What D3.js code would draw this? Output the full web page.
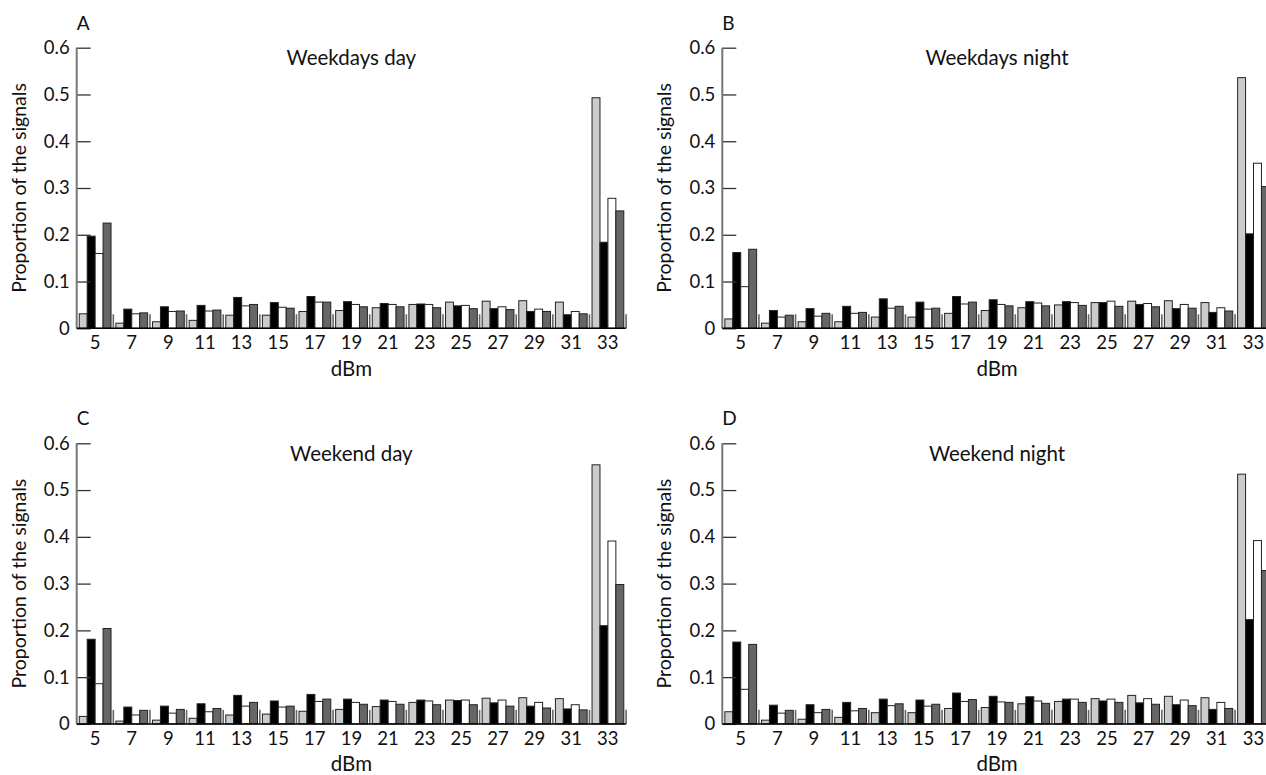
<!DOCTYPE html>
<html>
<head>
<meta charset="utf-8">
<script src="https://cdn.jsdelivr.net/npm/d3@7"></script>
<style>
  body { margin: 0; background: #fff; }
  svg text { font-family: Lato, "DejaVu Sans", sans-serif; fill: #111; }
</style>
</head>
<body>
<div id="chart"></div>
<script>
// dBm bins shown on the x axis
const categories = [5, 7, 9, 11, 13, 15, 17, 19, 21, 23, 25, 27, 29, 31, 33];
const seriesKeys = ["light", "black", "white", "dark"];
const yTicks = [0, 0.1, 0.2, 0.3, 0.4, 0.5, 0.6];
const yTickLabels = ["0", "0.1", "0.2", "0.3", "0.4", "0.5", "0.6"];
const separatorLevel = 0.03;

// values, one list per bar shade
const weekdaysDay = [
  [0.031, 0.011, 0.014, 0.017, 0.028, 0.028, 0.036, 0.038, 0.044, 0.051, 0.056, 0.058, 0.059, 0.056, 0.493],
  [0.197, 0.041, 0.046, 0.049, 0.066, 0.055, 0.068, 0.057, 0.053, 0.052, 0.048, 0.042, 0.036, 0.029, 0.184],
  [0.160, 0.031, 0.036, 0.037, 0.048, 0.045, 0.056, 0.051, 0.051, 0.051, 0.049, 0.046, 0.041, 0.036, 0.278],
  [0.225, 0.033, 0.037, 0.039, 0.051, 0.043, 0.056, 0.046, 0.046, 0.044, 0.042, 0.040, 0.036, 0.031, 0.251]
];
const weekdaysNight = [
  [0.020, 0.011, 0.014, 0.014, 0.024, 0.024, 0.032, 0.038, 0.044, 0.050, 0.055, 0.058, 0.059, 0.055, 0.536],
  [0.162, 0.038, 0.042, 0.047, 0.063, 0.056, 0.068, 0.061, 0.057, 0.057, 0.055, 0.051, 0.042, 0.034, 0.202],
  [0.089, 0.024, 0.026, 0.032, 0.043, 0.041, 0.052, 0.051, 0.054, 0.055, 0.058, 0.053, 0.051, 0.044, 0.353],
  [0.169, 0.028, 0.032, 0.034, 0.047, 0.043, 0.056, 0.048, 0.048, 0.049, 0.047, 0.046, 0.043, 0.037, 0.303]
];
const weekendDay = [
  [0.016, 0.006, 0.008, 0.012, 0.019, 0.021, 0.027, 0.031, 0.037, 0.046, 0.051, 0.055, 0.056, 0.054, 0.554],
  [0.181, 0.036, 0.038, 0.043, 0.061, 0.049, 0.063, 0.053, 0.051, 0.051, 0.050, 0.045, 0.038, 0.032, 0.210],
  [0.086, 0.019, 0.023, 0.026, 0.038, 0.036, 0.048, 0.046, 0.048, 0.049, 0.051, 0.051, 0.046, 0.041, 0.391],
  [0.204, 0.029, 0.031, 0.033, 0.046, 0.038, 0.053, 0.042, 0.042, 0.041, 0.041, 0.038, 0.034, 0.030, 0.298]
];
const weekendNight = [
  [0.026, 0.008, 0.010, 0.014, 0.024, 0.024, 0.033, 0.035, 0.043, 0.048, 0.054, 0.061, 0.059, 0.056, 0.534],
  [0.175, 0.040, 0.041, 0.046, 0.053, 0.051, 0.066, 0.059, 0.058, 0.053, 0.049, 0.045, 0.041, 0.031, 0.223],
  [0.074, 0.023, 0.024, 0.028, 0.039, 0.038, 0.048, 0.047, 0.049, 0.053, 0.053, 0.054, 0.051, 0.046, 0.392],
  [0.170, 0.029, 0.031, 0.033, 0.043, 0.042, 0.052, 0.046, 0.044, 0.046, 0.046, 0.042, 0.039, 0.033, 0.328]
];

const panelLetters = ["A", "B", "C", "D"];
const panelTitles = ["Weekdays day", "Weekdays night", "Weekend day", "Weekend night"];
const panelData = [weekdaysDay, weekdaysNight, weekendDay, weekendNight];

const fills = { light: "#cbcbcb", black: "#000000", white: "#ffffff", dark: "#666666" };

const svgWidth = 1266;
const svgHeight = 775;
const plotWidth = 549.4;
const plotHeight = 280.6;
const origins = [[76.7, 47.7], [722.3, 47.7], [76.7, 443.3], [722.3, 443.3]];

const svg = d3.select("#chart")
  .append("svg")
  .attr("width", svgWidth)
  .attr("height", svgHeight);

const x0 = d3.scaleBand()
  .domain(categories)
  .range([0, plotWidth])
  .padding(0);

const x1 = d3.scaleBand()
  .domain(seriesKeys)
  .range([x0.bandwidth() * 0.07, x0.bandwidth() * 0.937]);

const y = d3.scaleLinear()
  .domain([0, 0.6])
  .range([plotHeight, 0]);

panelData.forEach((series, p) => {
  const g = svg.append("g")
    .attr("transform", `translate(${origins[p][0]}, ${origins[p][1]})`);

  // separators between bins
  g.selectAll(".sep")
    .data(categories)
    .enter()
    .append("line")
    .attr("x1", d => x0(d) + x0.bandwidth())
    .attr("x2", d => x0(d) + x0.bandwidth())
    .attr("y1", y(0))
    .attr("y2", y(separatorLevel))
    .attr("stroke", "#666")
    .attr("stroke-width", 1.6);

  const rows = categories.map((c, i) => ({
    cat: c,
    bars: seriesKeys.map((k, s) => ({ key: k, value: series[s][i] }))
  }));

  const groups = g.selectAll(".grp")
    .data(rows)
    .enter()
    .append("g")
    .attr("transform", d => `translate(${x0(d.cat)}, 0)`);

  groups.selectAll("rect")
    .data(d => d.bars)
    .enter()
    .append("rect")
    .attr("x", d => x1(d.key))
    .attr("y", d => y(d.value))
    .attr("width", x1.bandwidth())
    .attr("height", d => y(0) - y(d.value))
    .attr("fill", d => fills[d.key])
    .attr("stroke", "#222")
    .attr("stroke-width", 1);

  // y axis, ticks pointing inward
  const leftAxis = d3.axisLeft(y)
    .tickValues(yTicks)
    .tickFormat((d, i) => yTickLabels[i])
    .tickSize(-14)
    .tickPadding(7);

  const yAxis = g.append("g").call(leftAxis);
  yAxis.select(".domain").remove();
  yAxis.selectAll(".tick line").attr("stroke", "#333").attr("stroke-width", 1.3);
  yAxis.selectAll(".tick text")
    .attr("font-size", 18.5)
    .attr("fill", "#111");

  g.append("line")
    .attr("x1", 0).attr("x2", 0)
    .attr("y1", y(0.6)).attr("y2", y(0))
    .attr("stroke", "#777")
    .attr("stroke-width", 2);

  // x axis
  const bottomAxis = d3.axisBottom(x0)
    .tickSize(0)
    .tickPadding(8);

  const xAxis = g.append("g")
    .attr("transform", `translate(0, ${plotHeight})`)
    .call(bottomAxis);
  xAxis.select(".domain").remove();
  xAxis.selectAll(".tick text")
    .attr("font-size", 18.5)
    .attr("fill", "#111");

  g.append("line")
    .attr("x1", 0).attr("x2", plotWidth)
    .attr("y1", y(0)).attr("y2", y(0))
    .attr("stroke", "#000")
    .attr("stroke-width", 1.5);

  // labels
  g.append("text")
    .attr("x", 0)
    .attr("y", -18)
    .attr("font-size", 19)
    .text(panelLetters[p]);

  g.append("text")
    .attr("x", plotWidth / 2)
    .attr("y", 17.5)
    .attr("text-anchor", "middle")
    .attr("font-size", 20.5)
    .text(panelTitles[p]);

  g.append("text")
    .attr("x", plotWidth / 2)
    .attr("y", plotHeight + 47.5)
    .attr("text-anchor", "middle")
    .attr("font-size", 20.5)
    .text("dBm");

  g.append("text")
    .attr("transform", "rotate(-90)")
    .attr("x", -plotHeight / 2)
    .attr("y", -51)
    .attr("text-anchor", "middle")
    .attr("font-size", 19.5)
    .text("Proportion of the signals");
});
</script>
</body>
</html>
